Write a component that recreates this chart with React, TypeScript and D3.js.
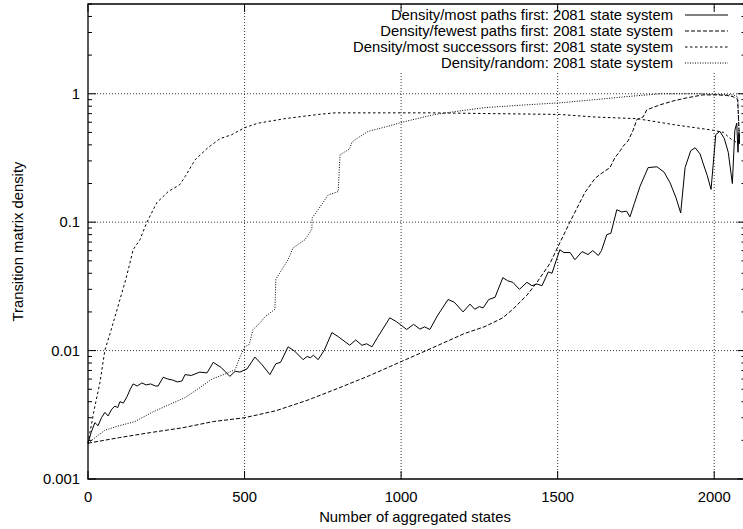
import React from "react";
import * as d3 from "d3";

// x: number of aggregated states, y: transition matrix density
const mostPaths: [number, number][] = [
  [0, 0.0019], [10, 0.0023], [22, 0.00275], [32, 0.0026], [43, 0.003], [54, 0.0033], [64, 0.0031],
  [76, 0.0035], [86, 0.0037], [95, 0.0036], [102, 0.004], [113, 0.0039], [125, 0.0044], [135, 0.005],
  [144, 0.0055], [157, 0.0053], [172, 0.0056], [186, 0.0054], [200, 0.0055], [215, 0.0053], [224, 0.0053],
  [240, 0.0062], [255, 0.006], [270, 0.0059], [285, 0.0057], [300, 0.0058], [310, 0.0065], [330, 0.0064],
  [357, 0.0068], [380, 0.0067], [400, 0.0081], [425, 0.0074], [453, 0.0063], [470, 0.0069], [485, 0.0068],
  [508, 0.0072], [533, 0.0089], [555, 0.0078], [581, 0.0065], [600, 0.0079], [615, 0.0081], [639, 0.0107],
  [660, 0.0099], [687, 0.0085], [700, 0.009], [710, 0.0088], [720, 0.0092], [735, 0.0085], [755, 0.0101],
  [779, 0.0138], [800, 0.0128], [836, 0.011], [855, 0.0121], [875, 0.011], [890, 0.0113], [907, 0.0107],
  [925, 0.0127], [964, 0.018], [985, 0.0168], [1018, 0.0146], [1040, 0.016], [1060, 0.0147], [1075, 0.0153],
  [1092, 0.0146], [1115, 0.0185], [1150, 0.025], [1170, 0.0238], [1198, 0.02], [1220, 0.023], [1235, 0.021],
  [1250, 0.022], [1262, 0.0215], [1280, 0.025], [1300, 0.026], [1325, 0.037], [1340, 0.035], [1357, 0.034],
  [1378, 0.03], [1402, 0.034], [1418, 0.032], [1434, 0.033], [1450, 0.032], [1470, 0.041], [1482, 0.04],
  [1495, 0.05], [1507, 0.061], [1520, 0.058], [1540, 0.058], [1555, 0.051], [1578, 0.059], [1597, 0.056],
  [1612, 0.06], [1630, 0.055], [1640, 0.06], [1657, 0.08], [1670, 0.082], [1689, 0.125], [1705, 0.12],
  [1720, 0.122], [1731, 0.11], [1745, 0.14], [1763, 0.19], [1789, 0.266], [1817, 0.27], [1840, 0.245],
  [1859, 0.203], [1878, 0.155], [1893, 0.118], [1907, 0.266], [1925, 0.36], [1939, 0.38], [1955, 0.34],
  [1964, 0.29], [1978, 0.23], [1990, 0.18], [2005, 0.48], [2018, 0.51], [2032, 0.45], [2045, 0.35],
  [2058, 0.2], [2066, 0.52], [2072, 0.59], [2076, 0.35], [2079, 0.5], [2081, 0.42],
];

const fewestPaths: [number, number][] = [
  [0, 0.0019], [100, 0.0021], [200, 0.0023], [300, 0.0025], [400, 0.0028], [500, 0.003], [600, 0.0034],
  [700, 0.0041], [800, 0.0051], [900, 0.0064], [1000, 0.0082], [1100, 0.0105], [1200, 0.0135],
  [1268, 0.0154], [1325, 0.018], [1357, 0.021], [1402, 0.027], [1434, 0.034], [1476, 0.048], [1507, 0.069],
  [1539, 0.1], [1587, 0.17], [1620, 0.22], [1635, 0.235], [1667, 0.266], [1683, 0.318], [1700, 0.36],
  [1709, 0.39], [1725, 0.43], [1741, 0.52], [1753, 0.63], [1773, 0.66], [1785, 0.75], [1827, 0.82],
  [1870, 0.88], [1913, 0.93], [1964, 0.98], [2009, 0.98], [2040, 0.97], [2060, 0.95], [2075, 0.9], [2081, 0.4],
];

const mostSuccessors: [number, number][] = [
  [0, 0.0019], [20, 0.0035], [38, 0.0056], [54, 0.0101], [70, 0.0135], [86, 0.0183], [100, 0.024],
  [118, 0.034], [130, 0.044], [144, 0.061], [166, 0.073], [188, 0.1], [220, 0.142], [256, 0.173],
  [293, 0.196], [310, 0.226], [342, 0.306], [383, 0.38], [421, 0.446], [459, 0.48], [501, 0.545],
  [543, 0.59], [629, 0.64], [735, 0.69], [789, 0.71], [948, 0.71], [1100, 0.71], [1300, 0.7], [1507, 0.69],
  [1613, 0.66], [1753, 0.64], [1880, 0.57], [1997, 0.52], [2030, 0.5], [2050, 0.45], [2070, 0.42], [2081, 0.42],
];

const randomOrder: [number, number][] = [
  [0, 0.0019], [54, 0.0024], [100, 0.0026], [150, 0.0028], [204, 0.0033], [260, 0.0038], [310, 0.0043],
  [350, 0.005], [396, 0.006], [440, 0.0066], [470, 0.0071], [486, 0.009], [501, 0.0107], [515, 0.0112],
  [527, 0.0146], [545, 0.016], [565, 0.0183], [597, 0.021], [600, 0.036], [620, 0.043], [639, 0.051],
  [655, 0.063], [693, 0.073], [715, 0.088], [716, 0.108], [735, 0.125], [757, 0.15], [767, 0.163],
  [799, 0.173], [805, 0.335], [821, 0.354], [835, 0.37], [843, 0.42], [860, 0.45], [895, 0.51], [948, 0.55],
  [1003, 0.6], [1108, 0.69], [1214, 0.75], [1268, 0.78], [1400, 0.82], [1507, 0.85], [1620, 0.9],
  [1720, 0.95], [1827, 1.0], [1955, 1.0], [2060, 0.98], [2075, 0.95], [2081, 0.42],
];

const seriesLabels = [
  "Density/most paths first: 2081 state system",
  "Density/fewest paths first: 2081 state system",
  "Density/most successors first: 2081 state system",
  "Density/random: 2081 state system",
];

const xTicks = [0, 500, 1000, 1500, 2000];
const yTicks = [0.001, 0.01, 0.1, 1];
const yTickLabels = ["0.001", "0.01", "0.1", "1"];

const W = 743;
const H = 529;
const FONT = "'Liberation Sans', Arial, Helvetica, sans-serif";
const FS = 14.8;

export default function App() {
  const left = 88;
  const right = 745.5;
  const top = 4;
  const bottom = 479;

  const x = d3.scaleLinear().domain([0, 2100]).range([left, right]);
  const y = d3.scaleLog().domain([0.001, 5]).range([bottom, top]);

  const line = d3
    .line<[number, number]>()
    .x((d) => x(d[0]))
    .y((d) => y(d[1]));

  const minorY: number[] = [];
  yTicks.forEach((d) => {
    for (let k = 2; k <= 9; k++) if (k * d <= 5) minorY.push(k * d);
  });

  const series = [
    { data: mostPaths, dash: "none", width: 1 },
    { data: fewestPaths, dash: "4,2", width: 1 },
    { data: mostSuccessors, dash: "2.5,2.5", width: 1 },
    { data: randomOrder, dash: "1,1.5", width: 1 },
  ];

  const legendY = [15, 31, 47, 63];

  return (
    <svg
      width={W}
      height={H}
      style={{ position: "absolute", left: 0, top: 0, background: "#fff" }}
      fontFamily={FONT}
    >
      <rect x={0} y={0} width={W} height={H} fill="#fff" />

      {/* grid */}
      <g stroke="#000" strokeWidth={0.8} strokeDasharray="1,2">
        {xTicks.slice(1).map((t) => (
          <line key={"gx" + t} x1={x(t)} x2={x(t)} y1={bottom} y2={top} />
        ))}
        {yTicks.slice(1).map((t) => (
          <line key={"gy" + t} x1={left} x2={right} y1={y(t)} y2={y(t)} />
        ))}
      </g>

      {/* curves */}
      {series.map((s, i) => (
        <path
          key={i}
          d={line(s.data) || ""}
          fill="none"
          stroke="#000"
          strokeWidth={s.width}
          strokeDasharray={s.dash}
        />
      ))}

      {/* key */}
      <rect x={345} y={9} width={W - 345} height={62} fill="#fff" />
      {seriesLabels.map((lab, i) => (
        <g key={lab}>
          <text x={673} y={legendY[i]} dy="0.35em" textAnchor="end" fontSize={FS}>
            {lab}
          </text>
          <line
            x1={685}
            x2={728}
            y1={legendY[i]}
            y2={legendY[i]}
            stroke="#000"
            strokeWidth={1}
            strokeDasharray={series[i].dash}
          />
        </g>
      ))}

      {/* border */}
      <path
        d={`M${right},${top}H${left}V${bottom}H${right}`}
        fill="none"
        stroke="#000"
        strokeWidth={1.3}
      />
      <line x1={right} x2={right} y1={top} y2={bottom} stroke="#000" strokeWidth={1.3} />

      {/* ticks */}
      <g stroke="#000" strokeWidth={1}>
        {xTicks.map((t) => (
          <g key={"tx" + t}>
            <line x1={x(t)} x2={x(t)} y1={bottom} y2={bottom - 8} />
            <line x1={x(t)} x2={x(t)} y1={top} y2={top + 8} />
          </g>
        ))}
        {yTicks.map((t) => (
          <g key={"ty" + t}>
            <line x1={left} x2={left + 8} y1={y(t)} y2={y(t)} />
            <line x1={right} x2={right - 8} y1={y(t)} y2={y(t)} />
          </g>
        ))}
        {minorY.map((t) => (
          <g key={"my" + t}>
            <line x1={left} x2={left + 4} y1={y(t)} y2={y(t)} />
            <line x1={right} x2={right - 4} y1={y(t)} y2={y(t)} />
          </g>
        ))}
      </g>

      {/* tick labels */}
      {xTicks.map((t) => (
        <text key={"lx" + t} x={x(t)} y={497} dy="0.35em" textAnchor="middle" fontSize={FS}>
          {t}
        </text>
      ))}
      {yTicks.map((t, i) => (
        <text key={"ly" + t} x={80} y={y(t)} dy="0.35em" textAnchor="end" fontSize={FS}>
          {yTickLabels[i]}
        </text>
      ))}

      {/* axis titles */}
      <text x={415} y={517} dy="0.35em" textAnchor="middle" fontSize={FS}>
        Number of aggregated states
      </text>
      <text
        transform={`translate(18,${(top + bottom) / 2}) rotate(-90)`}
        dy="0.35em"
        textAnchor="middle"
        fontSize={FS}
      >
        Transition matrix density
      </text>
    </svg>
  );
}
